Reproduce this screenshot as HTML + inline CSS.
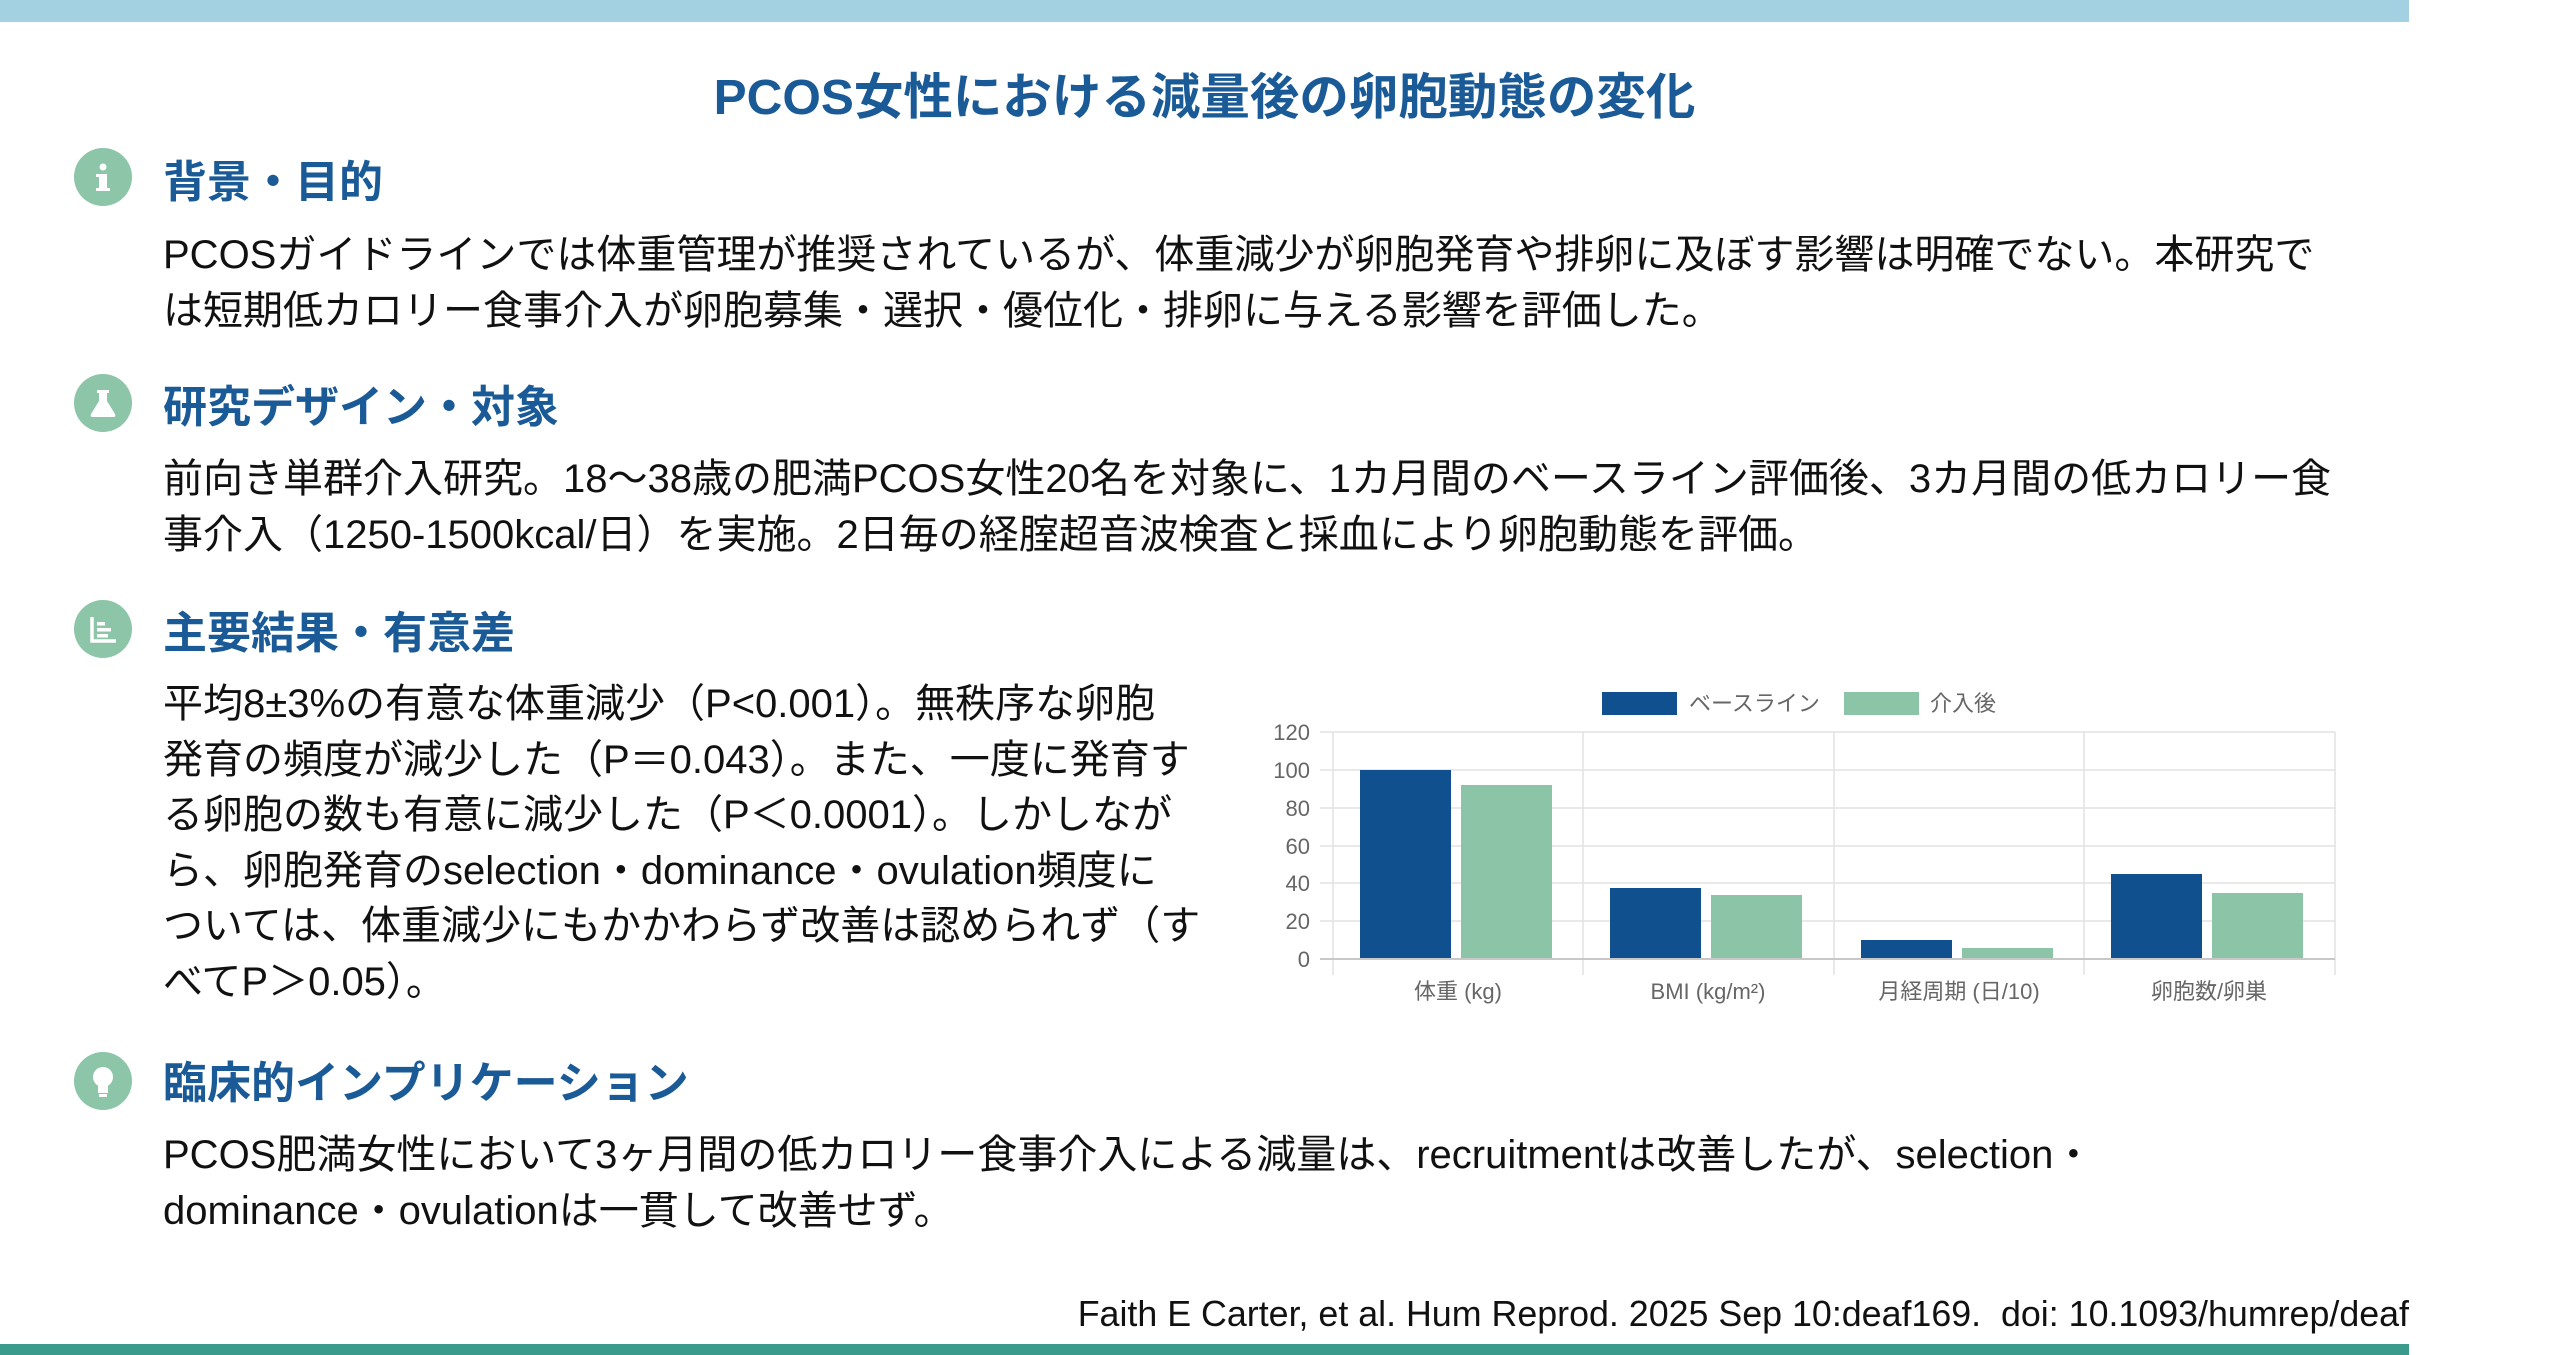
<!DOCTYPE html>
<html><head><meta charset="utf-8"><style>
*{margin:0;padding:0;box-sizing:border-box}
body{width:2560px;height:1355px;background:#fff;position:relative;overflow:hidden;font-family:"Liberation Sans","Noto Sans CJK JP",sans-serif;color:#111}
.bar{position:absolute;left:0;width:2409px}
.t{position:absolute;white-space:nowrap}
h1{position:absolute;left:0;width:2409px;top:66px;text-align:center;font-size:49.5px;line-height:64px;color:#1a5a96;font-weight:bold;font-family:"Liberation Sans","Noto Sans CJK JP",sans-serif}
.h{position:absolute;left:163px;font-size:44px;line-height:60px;font-weight:bold;color:#1a5a96;white-space:nowrap}
.p{position:absolute;left:163px;font-size:40px;line-height:55.5px;white-space:nowrap;color:#111}
.ic{position:absolute;left:74px;width:58px;height:58px;border-radius:50%;background:#8cc5a7}
.ic svg{position:absolute;left:0;top:0}
</style></head><body>
<div class="bar" style="top:0;height:22px;background:#a3d1e2"></div>
<div class="bar" style="top:1344px;height:11px;background:#3a9a8c"></div>
<h1>PCOS女性における減量後の卵胞動態の変化</h1>

<div class="ic" style="top:148px"><svg width="58" height="58"><circle cx="29" cy="19" r="3.5" fill="#fff"/><rect x="25" y="26" width="8" height="16" fill="#fff"/><rect x="22" y="26" width="6" height="3" fill="#fff"/><rect x="22" y="40" width="14" height="3" fill="#fff"/></svg></div>
<div class="h" style="top:153px">背景・目的</div>
<div class="p" style="top:228px">PCOSガイドラインでは体重管理が推奨されているが、体重減少が卵胞発育や排卵に及ぼす影響は明確でない。本研究で<br>は短期低カロリー食事介入が卵胞募集・選択・優位化・排卵に与える影響を評価した。</div>

<div class="ic" style="top:374px"><svg width="58" height="58"><path d="M23 16h12v3h-2v8l8 13c1 2 0 3-2 3H19c-2 0-3-1-2-3l8-13v-8h-2z" fill="#fff"/></svg></div>
<div class="h" style="top:378px">研究デザイン・対象</div>
<div class="p" style="top:452px">前向き単群介入研究。18～38歳の肥満PCOS女性20名を対象に、1カ月間のベースライン評価後、3カ月間の低カロリー食<br>事介入（1250-1500kcal/日）を実施。2日毎の経腟超音波検査と採血により卵胞動態を評価。</div>

<div class="ic" style="top:600px"><svg width="58" height="58"><path d="M18 17v24h24" stroke="#fff" stroke-width="3.5" fill="none"/><rect x="23" y="22" width="8" height="3.5" fill="#fff"/><rect x="23" y="28" width="14" height="3.5" fill="#fff"/><rect x="23" y="34" width="11" height="3.5" fill="#fff"/></svg></div>
<div class="h" style="top:604px">主要結果・有意差</div>
<div class="p" style="top:677px">平均8±3%の有意な体重減少（P&lt;0.001）。無秩序な卵胞<br>発育の頻度が減少した（P＝0.043）。また、一度に発育す<br>る卵胞の数も有意に減少した（P＜0.0001）。しかしなが<br>ら、卵胞発育のselection・dominance・ovulation頻度に<br>ついては、体重減少にもかかわらず改善は認められず（す<br>べてP＞0.05）。</div>

<div class="ic" style="top:1052px"><svg width="58" height="58"><circle cx="29" cy="25" r="10" fill="#fff"/><rect x="24" y="33" width="10" height="8" fill="#fff"/><rect x="25" y="42" width="8" height="3" fill="#fff"/></svg></div>
<div class="h" style="top:1054px">臨床的インプリケーション</div>
<div class="p" style="top:1128px">PCOS肥満女性において3ヶ月間の低カロリー食事介入による減量は、recruitmentは改善したが、selection・<br>dominance・ovulationは一貫して改善せず。</div>

<div class="t" style="right:151px;top:1292px;font-size:35.8px;line-height:44px;color:#111">Faith E Carter, et al. Hum Reprod. 2025 Sep 10:deaf169.&nbsp; doi: 10.1093/humrep/deaf</div>

<svg style="position:absolute;left:0;top:0" width="2560" height="1355" font-family="Liberation Sans, Noto Sans CJK JP, sans-serif">
<g fill="#666" font-size="22">
<rect x="1602" y="692" width="75" height="23" fill="#11508e"/>
<text x="1689" y="711">ベースライン</text>
<rect x="1844" y="692" width="75" height="23" fill="#8bc4a6"/>
<text x="1930" y="711">介入後</text>
</g>
<g stroke="#e2e2e2" stroke-width="1.5">
<line x1="1320" y1="732" x2="2335" y2="732"/>
<line x1="1320" y1="770" x2="2335" y2="770"/>
<line x1="1320" y1="808" x2="2335" y2="808"/>
<line x1="1320" y1="846" x2="2335" y2="846"/>
<line x1="1320" y1="883" x2="2335" y2="883"/>
<line x1="1320" y1="921" x2="2335" y2="921"/>
<line x1="1333" y1="732" x2="1333" y2="975"/>
<line x1="1583" y1="732" x2="1583" y2="975"/>
<line x1="1834" y1="732" x2="1834" y2="975"/>
<line x1="2084" y1="732" x2="2084" y2="975"/>
<line x1="2335" y1="732" x2="2335" y2="975"/>
</g>
<g fill="#11508e">
<rect x="1360" y="770" width="91" height="189"/>
<rect x="1610" y="888" width="91" height="71"/>
<rect x="1861" y="940" width="91" height="19"/>
<rect x="2111" y="874" width="91" height="85"/>
</g>
<g fill="#8bc4a6">
<rect x="1461" y="785" width="91" height="174"/>
<rect x="1711" y="895" width="91" height="64"/>
<rect x="1962" y="948" width="91" height="11"/>
<rect x="2212" y="893" width="91" height="66"/>
</g>
<line x1="1320" y1="959" x2="2335" y2="959" stroke="#c8c8c8" stroke-width="2"/>
<g fill="#666" font-size="22" text-anchor="end">
<text x="1310" y="740">120</text><text x="1310" y="778">100</text><text x="1310" y="816">80</text>
<text x="1310" y="854">60</text><text x="1310" y="891">40</text><text x="1310" y="929">20</text><text x="1310" y="967">0</text>
</g>
<g fill="#666" font-size="22" text-anchor="middle">
<text x="1458" y="999">体重 (kg)</text>
<text x="1708" y="999">BMI (kg/m²)</text>
<text x="1959" y="999">月経周期 (日/10)</text>
<text x="2209" y="999">卵胞数/卵巣</text>
</g>
</svg>
</body></html>
